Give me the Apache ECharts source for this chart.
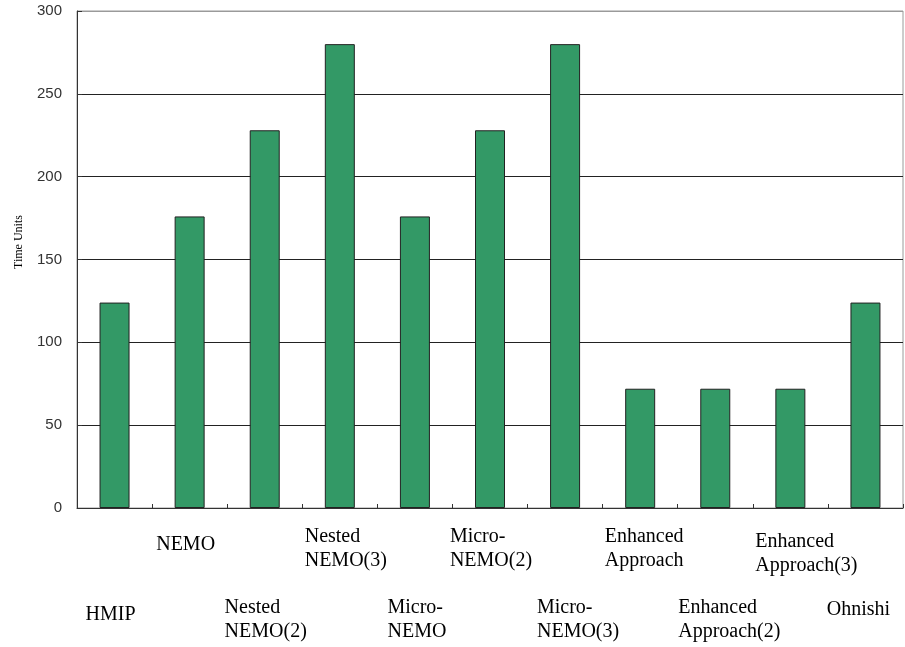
<!DOCTYPE html>
<html>
<head>
<meta charset="utf-8">
<title>Time Units by Scheme</title>
<script src="https://cdn.jsdelivr.net/npm/echarts@6/dist/echarts.min.js"></script>
<style>
  html, body { margin: 0; padding: 0; background: #ffffff; }
  #chart { width: 905px; height: 647px; }
</style>
</head>
<body>
<div id="chart"></div>
<script>
// Schemes compared on the x axis
const categories = [
  'HMIP', 'NEMO', 'Nested NEMO(2)', 'Nested NEMO(3)', 'Micro-NEMO',
  'Micro-NEMO(2)', 'Micro-NEMO(3)', 'Enhanced Approach',
  'Enhanced Approach(2)', 'Enhanced Approach(3)', 'Ohnishi'
];

// Time units per scheme
const timeUnits = [124, 176, 228, 280, 176, 228, 280, 72, 72, 72, 124];

// Value axis ticks
const yTicks = [0, 50, 100, 150, 200, 250, 300];

// Break long names onto two lines (after the space or the "Micro-" hyphen)
function wrapName(name) {
  if (name.indexOf(' ') >= 0) return name.replace(' ', '\n');
  if (name.indexOf('Micro-') === 0) return name.replace('Micro-', 'Micro-\n');
  return name;
}

const SERIF = '"Liberation Serif", "Times New Roman", serif';

// Per-label nudges within each staggered row: [dx, dy] in px
const labelNudge = [
  [-4, 7], [-4, 8], [1, 0], [6, 0], [2, 0], [1, 0],
  [13, 0], [4, 0], [14, 0], [16, 5], [-7, 2]
];

function padFor(n) {
  const dx = n[0], dy = n[1];
  return [dy, dx < 0 ? -2 * dx : 0, 0, dx > 0 ? 2 * dx : 0];
}

// Even-indexed names sit on the lower row, odd-indexed on the upper row
function rowData(row) {
  return categories.map(function (c, i) {
    return {
      value: c,
      textStyle: { padding: (i % 2 === row) ? padFor(labelNudge[i]) : 0 }
    };
  });
}

function rowFormatter(row) {
  return function (value, index) {
    if (index % 2 !== row) return '';
    return wrapName(value).split('\n').map(function (l) { return '{l|' + l + '}'; }).join('\n');
  };
}

function rowLabel(row, margin) {
  return {
    interval: 0,
    hideOverlap: false,
    margin: margin,
    verticalAlign: 'top',
    align: 'center',
    fontFamily: SERIF,
    fontSize: 20,
    lineHeight: 24,
    color: '#000',
    formatter: rowFormatter(row),
    rich: {
      l: { align: 'left', fontFamily: SERIF, fontSize: 20, lineHeight: 24, color: '#000' }
    }
  };
}

const chart = echarts.init(document.getElementById('chart'), null, { renderer: 'canvas' });

// Top split line doubles as the light plot-area border
const splitColors = yTicks.map(function (t, i) { return i === yTicks.length - 1 ? '#9a9a9a' : '#222'; });

chart.setOption({
  animation: false,
  backgroundColor: '#ffffff',
  grid: {
    left: 77, right: 2, top: 11, bottom: 139,
    show: true,
    borderColor: '#9a9a9a',
    borderWidth: 1,
    backgroundColor: 'transparent',
    outerBoundsMode: 'none'
  },
  xAxis: [{
    type: 'category',
    position: 'bottom',
    data: rowData(1),
    axisLine: { show: true, lineStyle: { color: '#333', width: 1 } },
    axisTick: { show: true, inside: true, length: 4, lineStyle: { color: '#333' } },
    splitLine: { show: false },
    axisLabel: rowLabel(1, 17)
  }, {
    type: 'category',
    position: 'bottom',
    data: rowData(0),
    axisLine: { show: false },
    axisTick: { show: false },
    splitLine: { show: false },
    axisLabel: rowLabel(0, 88)
  }],
  yAxis: {
    type: 'value',
    min: yTicks[0],
    max: yTicks[yTicks.length - 1],
    interval: yTicks[1] - yTicks[0],
    name: 'Time Units',
    nameLocation: 'middle',
    nameGap: 52,
    nameTextStyle: {
      fontFamily: SERIF,
      fontSize: 12,
      color: '#000',
      padding: [0, 0, 0, 35]
    },
    axisLine: { show: true, lineStyle: { color: '#333', width: 1 } },
    axisTick: { show: true, inside: true, length: 5, lineStyle: { color: '#333' } },
    splitLine: { show: true, lineStyle: { color: splitColors, width: 1 } },
    axisLabel: {
      margin: 15,
      fontFamily: '"Liberation Sans", Arial, sans-serif',
      fontSize: 15,
      color: '#333'
    }
  },
  series: [{
    type: 'bar',
    xAxisIndex: 0,
    data: timeUnits,
    barWidth: 30,
    itemStyle: {
      color: '#339966',
      borderColor: '#222',
      borderWidth: 1
    }
  }]
});
</script>
</body>
</html>
